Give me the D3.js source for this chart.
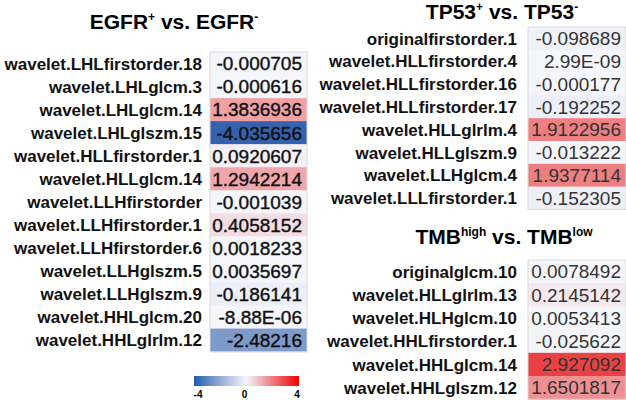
<!DOCTYPE html>
<html>
<head>
<meta charset="utf-8">
<script src="https://cdn.jsdelivr.net/npm/d3@7"></script>
<style>
  body { margin: 0; background: #fff; }
  text { font-family: "Liberation Sans", Arial, sans-serif; }
</style>
</head>
<body>
<script>
// ---- data ----
let egfrFeatures = ['wavelet.LHLfirstorder.18', 'wavelet.LHLglcm.3', 'wavelet.LHLglcm.14', 'wavelet.LHLglszm.15',
  'wavelet.HLLfirstorder.1', 'wavelet.HLLglcm.14', 'wavelet.LLHfirstorder', 'wavelet.LLHfirstorder.1',
  'wavelet.LLHfirstorder.6', 'wavelet.LLHglszm.5', 'wavelet.LLHglszm.9', 'wavelet.HHLglcm.20', 'wavelet.HHLglrlm.12'];
let egfrValues = [-0.000705, -0.000616, 1.3836936, -4.035656, 0.0920607, 1.2942214, -0.001039, 0.4058152,
  0.0018233, 0.0035697, -0.186141, -8.88e-06, -2.48216];

let tp53Features = ['originalfirstorder.1', 'wavelet.HLLfirstorder.4', 'wavelet.HLLfirstorder.16', 'wavelet.HLLfirstorder.17',
  'wavelet.HLLglrlm.4', 'wavelet.HLLglszm.9', 'wavelet.LLHglcm.4', 'wavelet.LLLfirstorder.1'];
let tp53Values = [-0.098689, 2.99e-09, -0.000177, -0.192252, 1.9122956, -0.013222, 1.9377114, -0.152305];

let tmbFeatures = ['originalglcm.10', 'wavelet.HLLglrlm.13', 'wavelet.HLHglcm.10', 'wavelet.HHLfirstorder.1',
  'wavelet.HHLglcm.14', 'wavelet.HHLglszm.12'];
let tmbValues = [0.0078492, 0.2145142, 0.0053413, -0.025622, 2.927092, 1.6501817];

let legendTicks = [-4, 0, 4];

// ---- canvas ----
let width = 626, height = 400;
let svg = d3.select('body').append('svg').attr('width', width).attr('height', height);

let color = d3.scaleLinear()
  .domain([-4, 0, 4])
  .range(['#3462ae', '#f5f6fb', '#e60000'])
  .clamp(true);

// excel-ish number display
let fmt = (v) => {
  if (v !== 0 && Math.abs(v) < 1e-4) {
    let s = v.toExponential(2).toUpperCase();   // -8.88E-6
    return s.replace(/E([+-])(\d)$/, 'E$10$2');
  }
  return String(v);
}

// title with superscripts
let drawTitle = (x, y, parts) => {
  let t = svg.append('text')
    .attr('x', x).attr('y', y)
    .attr('text-anchor', 'middle')
    .style('font-weight', 'bold')
    .style('font-size', '21px');
  parts.forEach(p => {
    let s = t.append('tspan').text(p[0]);
    if (p[1]) s.attr('dy', -8).style('font-size', '12px');
    if (p[2]) s.attr('dy', 8);
  });
}

let drawTable = (features, values, opt) => {
  let y = d3.scaleBand()
    .domain(features)
    .range([opt.top, opt.top + opt.rowH * features.length]);
  let g = svg.append('g');

  g.selectAll('rect.cell')
    .data(values)
    .enter()
    .append('rect')
    .attr('class', 'cell')
    .attr('x', opt.x0)
    .attr('y', (d, i) => y(features[i]))
    .attr('width', opt.x1 - opt.x0)
    .attr('height', y.bandwidth() + 0.5)
    .attr('fill', d => color(d));

  // thin frame on the column
  g.append('rect')
    .attr('x', opt.x0).attr('y', opt.top)
    .attr('width', opt.x1 - opt.x0)
    .attr('height', opt.rowH * features.length)
    .attr('fill', 'none')
    .attr('stroke', '#d9d9d9')
    .attr('stroke-width', 1);

  g.selectAll('text.lab')
    .data(features)
    .enter()
    .append('text')
    .attr('class', 'lab')
    .attr('x', opt.labX)
    .attr('y', d => y(d) + y.bandwidth() / 2)
    .attr('dy', '0.36em')
    .attr('text-anchor', 'end')
    .style('font-weight', 'bold')
    .style('font-size', opt.labSize)
    .attr('fill', '#111')
    .text(d => d);

  g.selectAll('text.val')
    .data(values)
    .enter()
    .append('text')
    .attr('class', 'val')
    .attr('x', opt.valX)
    .attr('y', (d, i) => y(features[i]) + y.bandwidth() / 2)
    .attr('dy', '0.36em')
    .attr('text-anchor', 'end')
    .style('font-size', opt.valSize)
    .attr('fill', opt.valColor)
    .attr('stroke', opt.valStroke ? opt.valColor : 'none')
    .attr('stroke-width', opt.valStroke || 0)
    .text(d => fmt(d));
}

drawTitle(174, 29, [['EGFR'], ['+', true], ['\u00a0vs. EGFR', false, true], ['-', true]]);
drawTable(egfrFeatures, egfrValues, {
  top: 52, rowH: 23.05, x0: 210, x1: 307, labX: 202, valX: 302,
  labSize: '17px', valSize: '19px', valColor: '#111', valStroke: 0.4
});

drawTitle(502, 19, [['TP53'], ['+', true], ['\u00a0vs. TP53', false, true], ['-', true]]);
drawTable(tp53Features, tp53Values, {
  top: 27, rowH: 22.8, x0: 528, x1: 626, labX: 517, valX: 621,
  labSize: '17px', valSize: '19px', valColor: '#333'
});

drawTitle(504, 244, [['TMB'], ['high', true], ['\u00a0vs. TMB', false, true], ['low', true]]);
drawTable(tmbFeatures, tmbValues, {
  top: 260, rowH: 23.2, x0: 528, x1: 626, labX: 517, valX: 621,
  labSize: '17px', valSize: '19px', valColor: '#333'
});

// ---- legend ----
let lx = d3.scaleLinear().domain([-4, 4]).range([194, 299]);
let defs = svg.append('defs');
let grad = defs.append('linearGradient').attr('id', 'lg');
[-4, -2, 0, 2, 4].forEach(v => {
  grad.append('stop')
    .attr('offset', ((v + 4) / 8 * 100) + '%')
    .attr('stop-color', v === 4 ? '#f50000' : v === -4 ? '#1a5cb3' : color(v));
});
svg.append('rect')
  .attr('x', lx(-4)).attr('y', 376)
  .attr('width', lx(4) - lx(-4)).attr('height', 10)
  .attr('fill', 'url(#lg)');
svg.append('g').selectAll('text')
  .data(legendTicks)
  .enter()
  .append('text')
  .attr('x', d => lx(d) + (d === 0 ? -2 : d < 0 ? 4 : -2))
  .attr('y', 398)
  .attr('text-anchor', 'middle')
  .style('font-size', '10px')
  .style('font-weight', 'bold')
  .text(d => d);
</script>
</body>
</html>
